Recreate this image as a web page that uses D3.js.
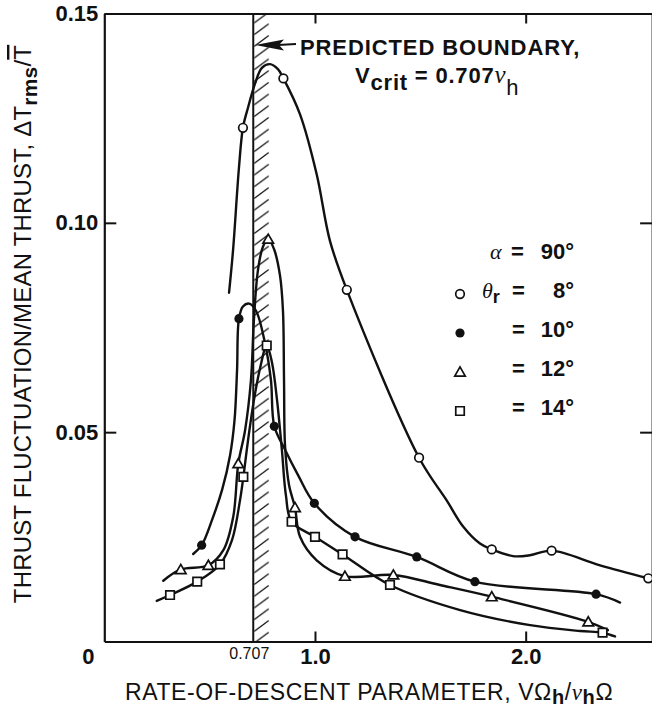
<!DOCTYPE html>
<html>
<head>
<meta charset="utf-8">
<script src="https://cdn.jsdelivr.net/npm/d3@7"></script>
<style>
  body { margin: 0; background: #fff; }
  svg text { font-family: "Liberation Sans", Arial, sans-serif; fill: #111; }
</style>
</head>
<body>
<svg id="chart" width="652" height="712"></svg>
<script>
// axis values
const xTicks = [1.0, 2.0]
const yTicks = [0.05, 0.10, 0.15]
const vCrit = 0.707
const bandEdge = 0.785

// measured points, [V/vh, dTrms/T]
const pts8 = [[0.658, 0.1227], [0.850, 0.1345], [1.151, 0.0840], [1.494, 0.0439], [1.839, 0.0220], [2.123, 0.0217], [2.582, 0.0151]]
const pts10 = [[0.462, 0.0230], [0.639, 0.0771], [0.807, 0.0514], [0.997, 0.0330], [1.190, 0.0250], [1.483, 0.0202], [1.759, 0.0143], [2.334, 0.0113]]
const pts12 = [[0.363, 0.0172], [0.494, 0.0182], [0.636, 0.0425], [0.778, 0.0961], [0.905, 0.0320], [1.142, 0.0156], [1.372, 0.0159], [1.839, 0.0107], [2.297, 0.0047]]
const pts14 = [[0.312, 0.0111], [0.441, 0.0143], [0.549, 0.0184], [0.660, 0.0393], [0.771, 0.0707], [0.889, 0.0286], [1.000, 0.0250], [1.131, 0.0208], [1.356, 0.0135], [2.365, 0.0021]]

// faired curves as drawn on the figure
const curve8 = [[0.592, 0.0833], [0.611, 0.0934], [0.639, 0.1131], [0.658, 0.1227], [0.682, 0.1275], [0.715, 0.1332], [0.748, 0.1370], [0.786, 0.1379], [0.824, 0.1367], [0.850, 0.1345], [0.929, 0.1259], [1.008, 0.1116], [1.071, 0.0957], [1.151, 0.0840], [1.494, 0.0439], [1.625, 0.0337], [1.704, 0.0274], [1.783, 0.0234], [1.839, 0.0220], [1.940, 0.0204], [2.020, 0.0206], [2.123, 0.0217], [2.353, 0.0182], [2.582, 0.0151]]
const curve10 = [[0.422, 0.0209], [0.462, 0.0230], [0.511, 0.0290], [0.559, 0.0362], [0.597, 0.0445], [0.618, 0.0528], [0.630, 0.0647], [0.639, 0.0771], [0.658, 0.0800], [0.687, 0.0807], [0.720, 0.0790], [0.763, 0.0712], [0.791, 0.0624], [0.807, 0.0514], [0.858, 0.0458], [0.919, 0.0398], [0.997, 0.0330], [1.190, 0.0250], [1.483, 0.0202], [1.759, 0.0143], [2.334, 0.0113], [2.448, 0.0093]]
const curve12 = [[0.280, 0.0145], [0.363, 0.0172], [0.494, 0.0182], [0.565, 0.0218], [0.612, 0.0298], [0.636, 0.0425], [0.668, 0.0504], [0.696, 0.0624], [0.710, 0.0767], [0.729, 0.0886], [0.753, 0.0943], [0.778, 0.0961], [0.805, 0.0938], [0.834, 0.0874], [0.848, 0.0790], [0.853, 0.0624], [0.858, 0.0466], [0.877, 0.0373], [0.905, 0.0320], [0.929, 0.0250], [1.008, 0.0194], [1.142, 0.0156], [1.372, 0.0159], [1.593, 0.0135], [1.839, 0.0107], [2.297, 0.0047], [2.390, 0.0027]]
const curve14 = [[0.249, 0.0097], [0.312, 0.0111], [0.441, 0.0143], [0.549, 0.0184], [0.606, 0.0242], [0.644, 0.0337], [0.660, 0.0393], [0.682, 0.0480], [0.710, 0.0576], [0.739, 0.0652], [0.771, 0.0707], [0.796, 0.0666], [0.820, 0.0576], [0.843, 0.0457], [0.862, 0.0349], [0.889, 0.0286], [1.000, 0.0250], [1.131, 0.0208], [1.356, 0.0135], [1.689, 0.0075], [2.021, 0.0039], [2.258, 0.0025], [2.365, 0.0021], [2.424, 0.0012]]

// legend
const legendKinds = ['open', 'filled', 'triangle', 'square']
const legendValues = ['8°', '10°', '12°', '14°']

const svg = d3.select('#chart')

const x = d3.scaleLinear().domain([0, 2.6]).range([104.3, 652.1])
const y = d3.scaleLinear().domain([0, 0.15]).range([641.5, 13.5])

//hatched band at critical descent rate
const defs = svg.append('defs')
const bw = x(bandEdge) - x(vCrit)
defs.append('pattern')
  .attr('id', 'hatch')
  .attr('patternUnits', 'userSpaceOnUse')
  .attr('x', x(vCrit)).attr('y', 0)
  .attr('width', bw).attr('height', 11.7)
  .append('line')
  .attr('x1', 1).attr('y1', 11.2)
  .attr('x2', bw - 1).attr('y2', 0.5)
  .attr('stroke', '#111').attr('stroke-width', 1.3)

svg.append('rect')
  .attr('x', x(vCrit)).attr('y', y(0.15))
  .attr('width', bw).attr('height', y(0) - y(0.15))
  .attr('fill', 'url(#hatch)')

svg.append('line')
  .attr('x1', x(vCrit)).attr('x2', x(vCrit))
  .attr('y1', y(0.15)).attr('y2', y(0))
  .attr('stroke', '#111').attr('stroke-width', 2)

// axes
function styleAxis(g, w) {
  g.select('.domain').attr('stroke', '#111').attr('stroke-width', w)
  g.selectAll('.tick line').attr('stroke', '#111').attr('stroke-width', 2)
  g.selectAll('.tick text')
    .attr('fill', '#111')
    .style('font-size', '22px')
    .style('font-weight', 'bold')
    .style('font-family', '"Liberation Sans", Arial, sans-serif')
}

svg.append('g')
  .attr('transform', `translate(${x(0)},0)`)
  .call(d3.axisLeft(y).tickValues(yTicks).tickSizeInner(-12).tickSizeOuter(0).tickPadding(6).tickFormat(d3.format('.2f')))
  .call(styleAxis, 2.2)

svg.append('g')
  .attr('transform', `translate(0,${y(0)})`)
  .call(d3.axisBottom(x).tickValues(xTicks).tickSizeInner(-10).tickSizeOuter(0).tickPadding(7).tickFormat(d3.format('.1f')))
  .call(styleAxis, 2.2)

svg.append('g')
  .attr('transform', `translate(0,${y(0.15)})`)
  .call(d3.axisTop(x).tickValues(xTicks).tickSizeInner(-10).tickSizeOuter(0).tickFormat(''))
  .call(styleAxis, 1.8)

svg.append('g')
  .attr('transform', `translate(${x(2.6)},0)`)
  .call(d3.axisRight(y).tickValues([0.05, 0.10]).tickSizeInner(-12).tickSizeOuter(0).tickFormat(''))
  .call(styleAxis, 2)

svg.append('text')
  .attr('x', x(0) - 16).attr('y', y(0) + 22)
  .attr('text-anchor', 'middle')
  .style('font-size', '22px').style('font-weight', 'bold')
  .text('0')

svg.append('text')
  .attr('x', x(vCrit) - 4).attr('y', y(0) + 17)
  .attr('text-anchor', 'middle')
  .style('font-size', '16px')
  .text('0.707')

// curves
const line = d3.line()
  .x(d => x(d[0]))
  .y(d => y(d[1]))
  .curve(d3.curveCatmullRom.alpha(0.5))

const curves = svg.append('g')
  .attr('fill', 'none')
  .attr('stroke', '#111')
  .attr('stroke-width', 2.4)
  .attr('stroke-linejoin', 'round')
  .attr('stroke-linecap', 'round')

;[curve8, curve10, curve12, curve14].forEach(c => {
  curves.append('path').attr('d', line(c))
})

// markers
const symTri = d3.symbol(d3.symbolTriangle, 48)
const symSq = d3.symbol(d3.symbolSquare, 72)

function drawMarker(g, kind, px, py) {
  if (kind === 'open') {
    g.append('circle').attr('cx', px).attr('cy', py).attr('r', 4.3)
      .attr('fill', '#fff').attr('stroke', '#111').attr('stroke-width', 1.7)
  } else if (kind === 'filled') {
    g.append('circle').attr('cx', px).attr('cy', py).attr('r', 4.6)
      .attr('fill', '#111')
  } else if (kind === 'triangle') {
    g.append('path').attr('d', symTri()).attr('transform', `translate(${px},${py + 1})`)
      .attr('fill', '#fff').attr('stroke', '#111').attr('stroke-width', 1.7)
  } else {
    g.append('path').attr('d', symSq()).attr('transform', `translate(${px},${py})`)
      .attr('fill', '#fff').attr('stroke', '#111').attr('stroke-width', 1.7)
  }
}

const marks = svg.append('g')
;[[pts8, 'open'], [pts10, 'filled'], [pts12, 'triangle'], [pts14, 'square']].forEach(([pts, kind]) => {
  pts.forEach(d => drawMarker(marks, kind, x(d[0]), y(d[1])))
})

// legend
const leg = svg.append('g')
const alphaRow = leg.append('text').attr('x', 490).attr('y', 259).style('font-size', '22px')
alphaRow.append('tspan').style('font-family', '"Liberation Serif", serif').style('font-style', 'italic').text('α')
leg.append('text').attr('x', 511).attr('y', 259).style('font-size', '22px').style('font-weight', 'bold').text('=')
leg.append('text').attr('x', 574).attr('y', 259).attr('text-anchor', 'end')
  .style('font-size', '22px').style('font-weight', 'bold').text('90°')

legendKinds.forEach((kind, i) => {
  const by = 298 + i * 39
  drawMarker(leg, kind, 460, by - 4)
  if (i === 0) {
    const th = leg.append('text').attr('x', 482).attr('y', by).style('font-size', '22px')
    th.append('tspan').style('font-family', '"Liberation Serif", serif').style('font-style', 'italic').text('θ')
    th.append('tspan').attr('dy', 5).style('font-weight', 'bold').style('font-size', '18px').text('r')
  }
  leg.append('text').attr('x', 512).attr('y', by).style('font-size', '22px').style('font-weight', 'bold').text('=')
  leg.append('text').attr('x', 574).attr('y', by).attr('text-anchor', 'end')
    .style('font-size', '22px').style('font-weight', 'bold').text(legendValues[i])
})

// annotation
svg.append('line')
  .attr('x1', 296).attr('x2', 278)
  .attr('y1', 44).attr('y2', 45)
  .attr('stroke', '#111').attr('stroke-width', 2.2)
svg.append('path')
  .attr('d', `M${x(vCrit) + 2},45 L284,39.5 L279,45 L284,50.5 Z`)
  .attr('fill', '#111')

svg.append('text')
  .attr('x', 300).attr('y', 55)
  .style('font-size', '22px').style('font-weight', 'bold').style('letter-spacing', '0.9px')
  .text('PREDICTED BOUNDARY,')

const vc = svg.append('text')
  .attr('x', 355).attr('y', 83)
  .style('font-size', '22px').style('font-weight', 'bold').style('letter-spacing', '0.8px')
vc.append('tspan').text('V')
vc.append('tspan').attr('dy', 7).text('crit')
vc.append('tspan').attr('dy', -7).text(' = 0.707')
vc.append('tspan').style('font-family', '"Liberation Serif", serif').style('font-style', 'italic')
  .style('font-weight', 'normal').style('font-size', '25px').text('ν')
vc.append('tspan').attr('dy', 12).style('font-weight', 'normal').text('h')

// axis titles
const xt = svg.append('text')
  .attr('x', 125).attr('y', 700)
  .style('font-size', '23px').style('letter-spacing', '0.6px')
xt.append('tspan').text('RATE-OF-DESCENT PARAMETER, VΩ')
xt.append('tspan').attr('dy', 4).style('font-weight', 'bold').style('font-size', '20px').text('h')
xt.append('tspan').attr('dy', -4).text('/')
xt.append('tspan').style('font-family', '"Liberation Serif", serif').style('font-style', 'italic').text('ν')
xt.append('tspan').attr('dy', 4).style('font-weight', 'bold').style('font-size', '20px').text('h')
xt.append('tspan').attr('dy', -4).text('Ω')

const yt = svg.append('text')
  .attr('transform', 'translate(31,324) rotate(-90)')
  .attr('text-anchor', 'middle')
  .style('font-size', '24px').style('letter-spacing', '0.2px')
yt.append('tspan').text('THRUST FLUCTUATION/MEAN THRUST, ΔT')
yt.append('tspan').attr('dy', 6).style('font-weight', 'bold').style('font-size', '21px').text('rms')
yt.append('tspan').attr('dy', -6).text('/')
yt.append('tspan').style('text-decoration', 'overline').text('T')
</script>
</body>
</html>
